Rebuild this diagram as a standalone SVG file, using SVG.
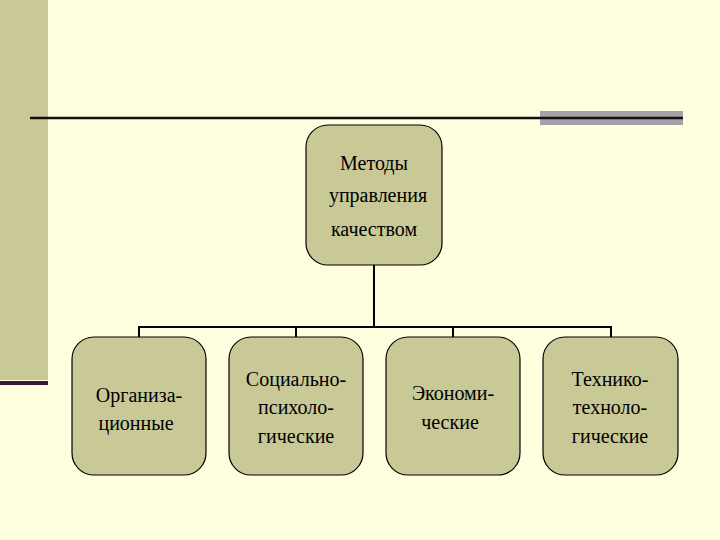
<svg xmlns="http://www.w3.org/2000/svg" width="720" height="540" viewBox="0 0 720 540">
<style>
.n{fill:#C9C998;stroke:#000;stroke-width:1.2}
.t{font-family:"Liberation Serif",serif;font-size:20px;fill:#000;text-anchor:middle}
.c{stroke:#000;stroke-width:2;fill:none}
</style>
<rect width="720" height="540" fill="#FFFFE0"/>
<rect x="0" y="0" width="48" height="380" fill="#C9C998"/>
<rect x="0" y="381" width="48" height="4" fill="#3A1838"/>
<rect x="540" y="111" width="143" height="14" fill="#A8A0A8"/>
<line x1="30" y1="118" x2="683" y2="118" stroke="#111" stroke-width="2.5"/>
<g id="connectors">
<path class="c" d="M374 265V327M139 337V327H611V337M296 327V337M453 327V337"/>
</g>
<g id="root"><rect class="n" x="306" y="125" width="136" height="140" rx="22"/>
<text class="t" x="374" y="170">Методы</text><text class="t" x="378" y="202">управления</text><text class="t" x="374" y="236">качеством</text></g>
<g id="n1"><rect class="n" x="72" y="337" width="134" height="138" rx="22"/>
<text class="t" x="139" y="402">Организа-</text><text class="t" x="136" y="430">ционные</text></g>
<g id="n2"><rect class="n" x="229" y="337" width="134" height="138" rx="22"/>
<text class="t" x="296" y="386">Социально-</text><text class="t" x="296" y="414">психоло-</text><text class="t" x="296" y="443">гические</text></g>
<g id="n3"><rect class="n" x="386" y="337" width="134" height="138" rx="22"/>
<text class="t" x="453" y="400">Экономи-</text><text class="t" x="450" y="429">ческие</text></g>
<g id="n4"><rect class="n" x="543" y="337" width="135" height="138" rx="22"/>
<text class="t" x="610" y="386">Технико-</text><text class="t" x="610" y="414">техноло-</text><text class="t" x="610" y="443">гические</text></g>
</svg>
